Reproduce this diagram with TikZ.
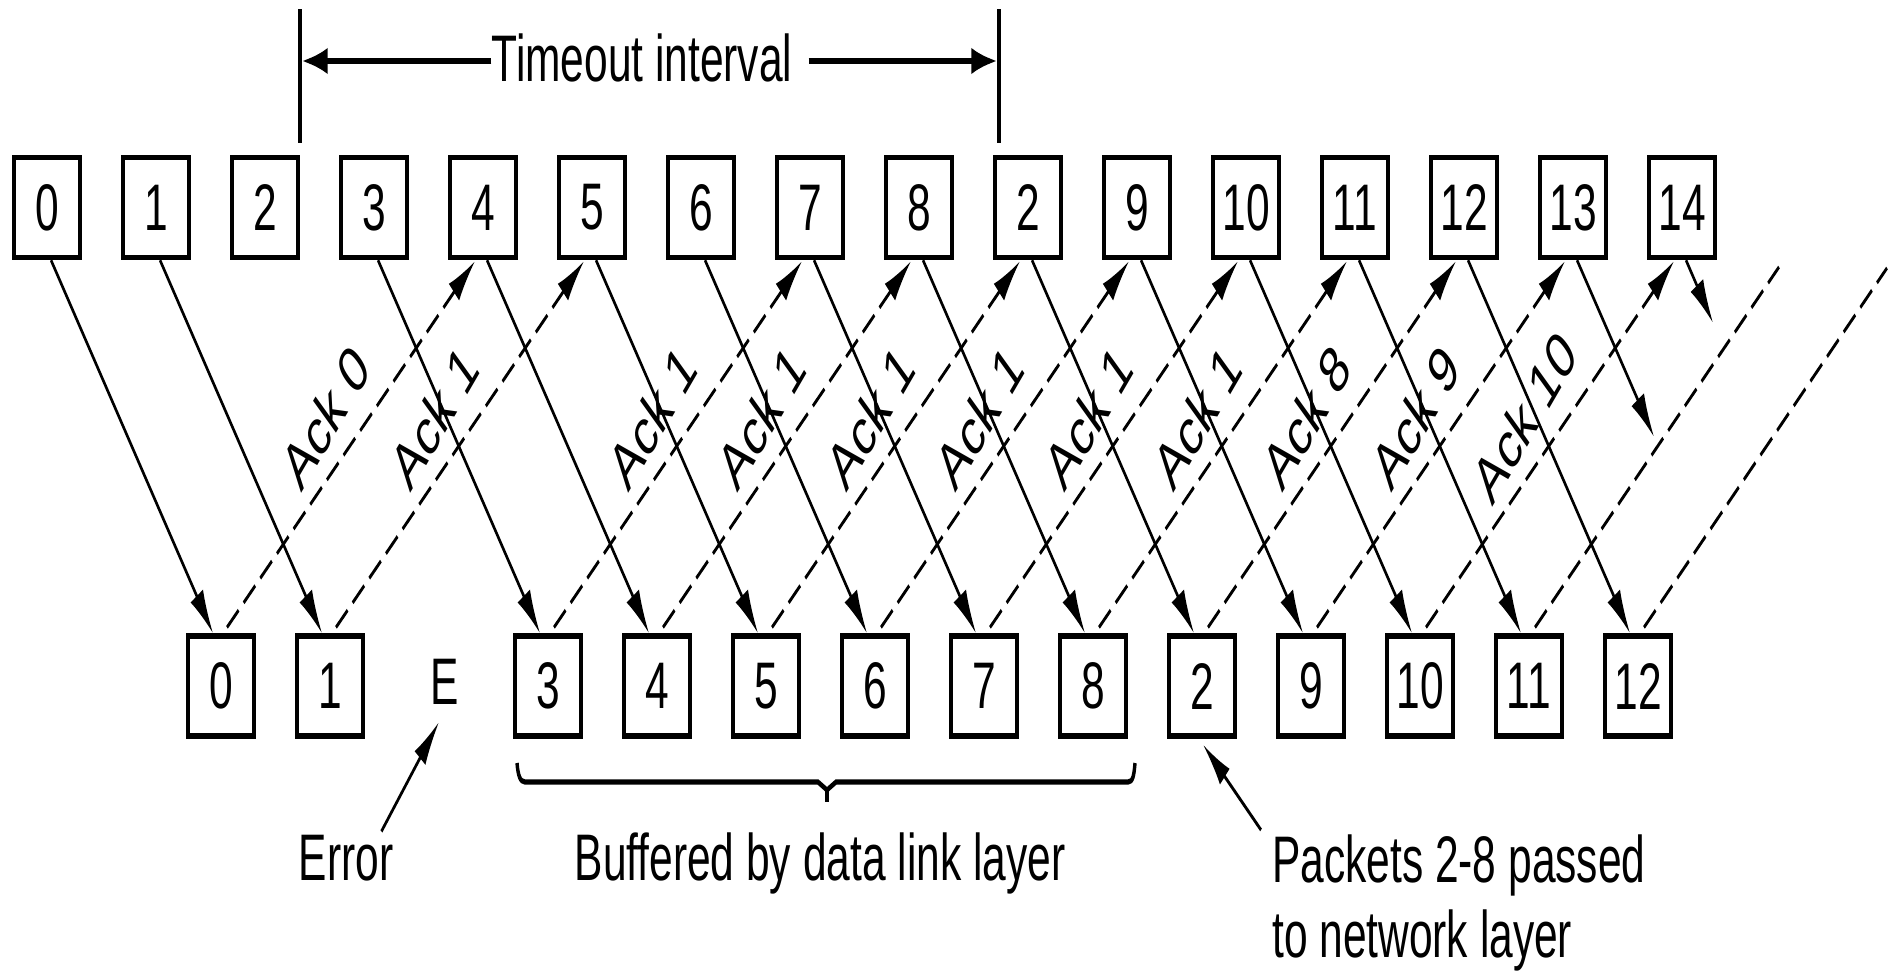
\documentclass[tikz,border=0pt]{standalone}
\usepackage{fontspec}
\setmainfont{Liberation Sans}
\usetikzlibrary{arrows.meta,calc}

\begin{document}
\begin{tikzpicture}[x=1pt,y=-1pt]
\useasboundingbox (0,0) rectangle (1899,972);
\fill[white] (0,0) rectangle (1899,972);
% everything is drawn in a vertically compressed frame and stretched back by the canvas transform
\begin{scope}[x=1pt, y=-0.64516pt, transform canvas={yscale=1.55},
   txt/.style={inner sep=0pt, font=\fontsize{42.5}{50}\selectfont},
   frame/.style={txt, draw, line width=3.4pt, minimum width=66pt, minimum height=64.5pt},
   head/.style={-{Latex[length=29pt,width=15pt]}},
   data/.style={line width=2.4pt, head},
   ackline/.style={line width=2.4pt, dash pattern=on 16pt off 7pt},
   ack/.style={ackline, head},
   acklbl/.style={txt, pos=0.575, xshift=-44pt, rotate=48},
   pointer/.style={line width=2.4pt, -{Latex[length=30pt,width=14pt]}},
   bar/.style={line width=3.4pt},
   tarrow/.style={line width=3.4pt, -{Latex[length=26pt,width=17pt]}}
]

% sender frames
\foreach \i/\lab in {0/0,1/1,2/2,3/3,4/4,5/5,6/6,7/7,8/8,9/2,10/9,11/10,12/11,13/12,14/13,15/14}
  \node[frame] (t\i) at ({47+109*\i},207.5) {\lab};

% receiver frames
\foreach \n/\lab in {0/0,1/1,3/3,4/4,5/5,6/6,7/7,8/8,9/2,10/9,11/10,12/11,13/12}
  \node[frame] (b\n) at ({221+109*\n},686) {\lab};
\node[txt] (b2) at (445,682) {E};

% free ends of the paths still in transit
\coordinate (f14) at (1654,437);
\coordinate (f15) at (1713,323);
\coordinate (g12) at (1779,267);
\coordinate (g13) at (1887,268);

% data frames
\foreach \i in {0,1,3,4,5,6,7,8,9,10,11,12,13}
  \draw[data] ($(t\i.south)+(4,0)$) -- ($(b\i.north)+(-8,0)$);
\draw[data] ($(t14.south)+(4,0)$) -- (f14);
\draw[data] ($(t15.south)+(4,0)$) -- (f15);

% acknowledgements
\foreach \n/\m/\ak in {0/4/0,1/5/1,3/7/1,4/8/1,5/9/1,6/10/1,7/11/1,8/12/1,9/13/8,10/14/9,11/15/10}{
  \coordinate (s\n) at ($(b\n.north)+(6,-6)$);
  \coordinate (e\n) at ($(t\m.south)+(-8,1)$);
  \draw[ack] (s\n) -- (e\n);
  \path (s\n) -- (e\n) node[acklbl] (al\n) {Ack \ak};
}
\draw[ackline] ($(b12.north)+(6,-6)$) -- (g12);
\draw[ackline] ($(b13.north)+(6,-6)$) -- (g13);

% timeout interval
\node[txt] (tmo) at (642,57.5) {Timeout interval};
\coordinate (vl1) at (300,9);
\coordinate (vl2) at (300,143);
\coordinate (vr1) at (999,9);
\coordinate (vr2) at (999,143);
\draw[bar] (vl1) -- (vl2);
\draw[bar] (vr1) -- (vr2);
\draw[tarrow] ($(tmo.west)+(0,3.5)$) -- ($(tmo.west -| vl1)+(1.7,3.5)$);
\draw[tarrow] ($(tmo.east)+(16,3.5)$) -- ($(tmo.east -| vr1)+(-1.7,3.5)$);

% annotations
\node[txt, anchor=base] (err) at (346,880) {Error};
\node[txt, anchor=base] (buf) at (820,880) {Buffered by data link layer};
\node[txt, anchor=base west] (pk1) at (1272,882) {Packets 2-8 passed};
\node[txt, anchor=base west] (pk2) at (1272,957) {to network layer};

\draw[pointer] ($(err.north east)+(-12,-3)$) -- ($(b2.south)+(-6,17)$);
\draw[pointer] ($(pk1.north west)+(-11,-4)$) -- ($(b9.south)+(1,6)$);

% brace under the buffered frames
\draw[bar] (517,763) .. controls (518,775) and (520,782) .. (525,782) -- (818,782) -- (827,790) -- (836,782) -- (1128,782) .. controls (1133,782) and (1134,775) .. (1135,763);
\draw[bar] (827,790) -- (827,802);

\end{scope}
\end{tikzpicture}
\end{document}
